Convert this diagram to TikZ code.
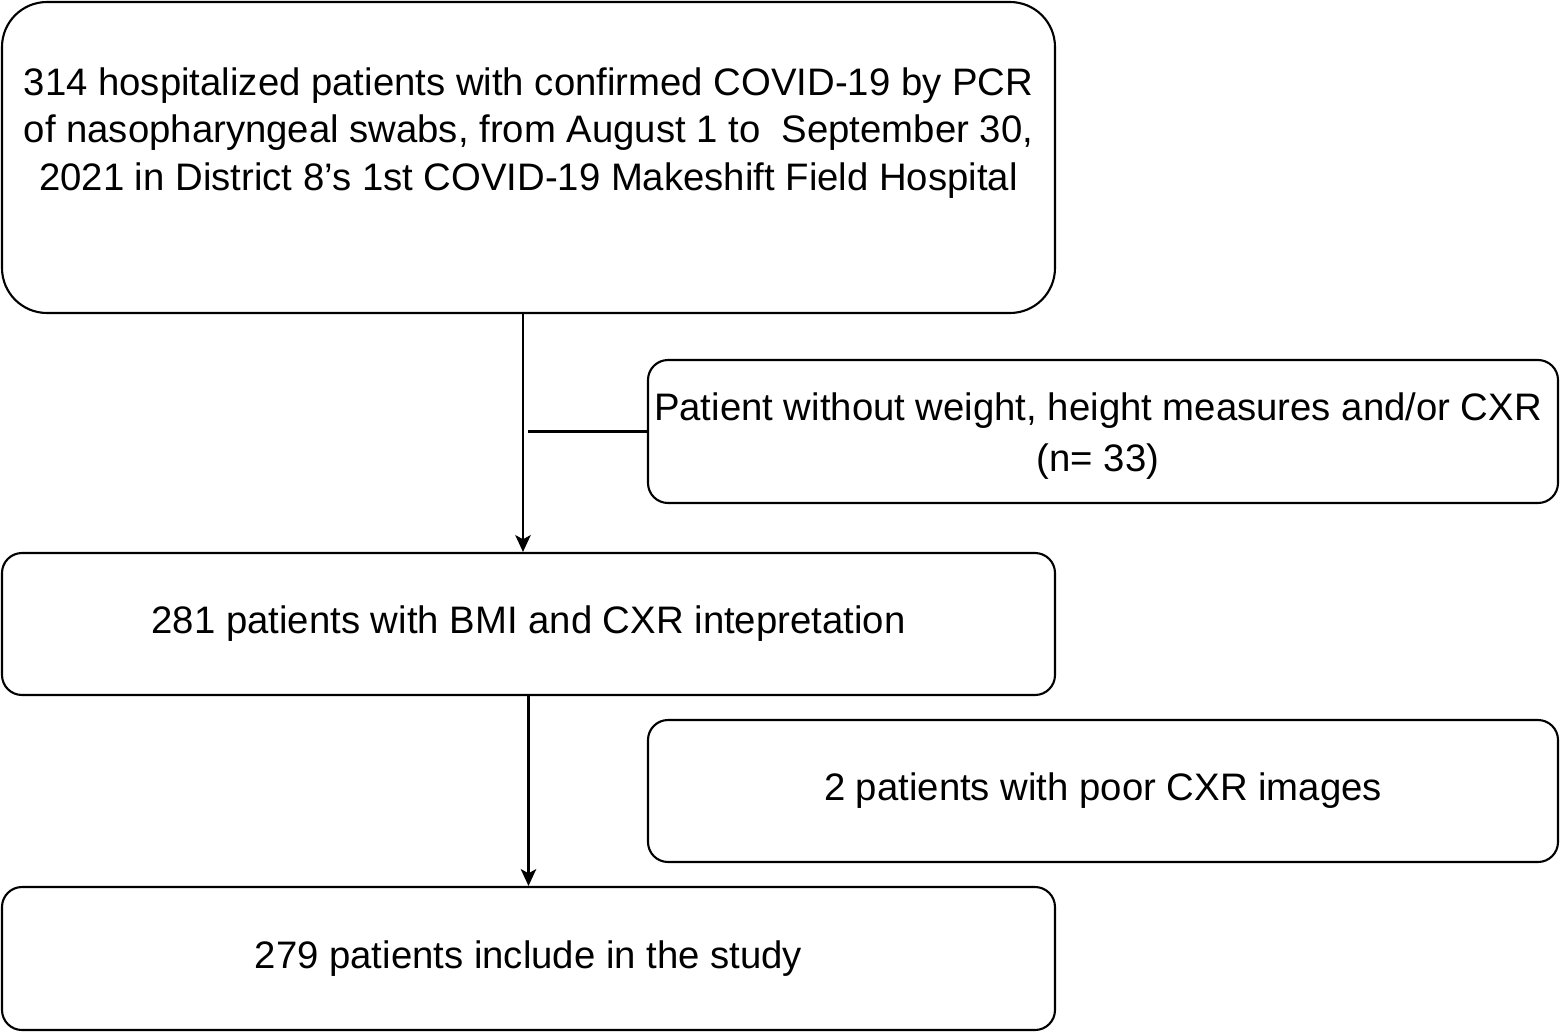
\documentclass[tikz,border=0pt]{standalone}
\usepackage{fontspec}
\setmainfont{Liberation Sans}
\usetikzlibrary{arrows.meta}

\begin{document}
\begin{tikzpicture}[
	box/.style={draw, line width=0.6pt, rounded corners=0.2cm, minimum width=10.53cm, minimum height=1.42cm, inner sep=0pt},
	exclbox/.style={box, minimum width=9.10cm},
	txt/.style={align=center, font=\fontsize{10.9}{13.5}\selectfont},
	flow/.style={line width=0.6pt, -{Stealth[length=4.8pt, width=4.4pt, inset=1.2pt]}}
	]
	\useasboundingbox (0,0) rectangle (15.61,-10.33);
	\node [box, rounded corners=0.45cm, minimum height=3.11cm] (screened) at (5.285,-1.575) {};
	\node [txt] (screenedtxt) at (5.285,-1.33) {314 hospitalized patients with confirmed COVID-19 by PCR\\of nasopharyngeal swabs, from August 1 to\ \ September 30,\\2021 in District 8’s 1st COVID-19 Makeshift Field Hospital};
	\node [exclbox, minimum height=1.43cm] (nomeasure) at (11.03,-4.315) {};
	\node [txt, font=\fontsize{10.9}{14.5}\selectfont] (nomeasuretxt) at (10.98,-4.36) {Patient without weight, height measures and/or CXR\\(n= 33)};
	\node [box, txt] (bmi) at (5.285,-6.24) {281 patients with BMI and CXR intepretation};
	\node [exclbox, txt] (poorcxr) at (11.03,-7.91) {2 patients with poor CXR images};
	\node [box, minimum height=1.43cm, txt] (study) at (5.285,-9.585) {279 patients include in the study};
	\coordinate (join) at (5.28,-4.315);
	\draw [flow] ([xshift=-0.055cm]screened.south) -- ([xshift=-0.055cm]bmi.north);
	\draw [line width=0.6pt] (join) -- (nomeasure.west);
	\draw [flow] (bmi.south) -- (study.north);
\end{tikzpicture}
\end{document}
